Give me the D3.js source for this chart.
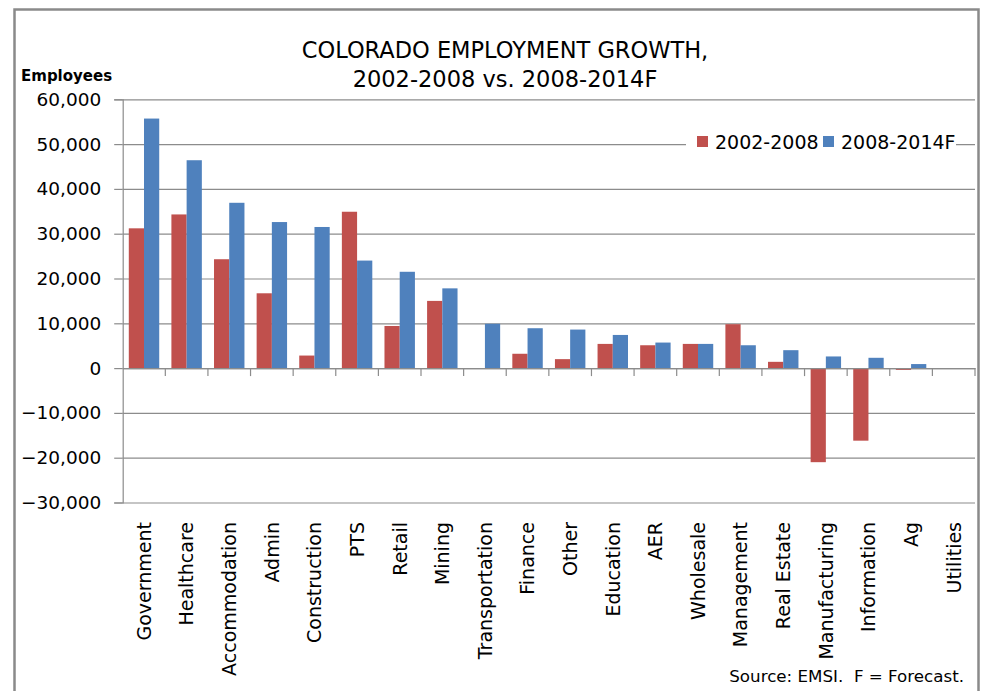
<!DOCTYPE html>
<html>
<head>
<meta charset="utf-8">
<script src="https://cdn.jsdelivr.net/npm/d3@7"></script>
<style>
  html, body { margin: 0; padding: 0; background: #fff; }
  svg { display: block; }
  text { font-family: "DejaVu Sans", sans-serif; fill: #000; }
</style>
</head>
<body>
<svg id="chart" width="987" height="691"></svg>
<script>
const categories = ["Government", "Healthcare", "Accommodation", "Admin", "Construction", "PTS", "Retail", "Mining", "Transportation", "Finance", "Other", "Education", "AER", "Wholesale", "Management", "Real Estate", "Manufacturing", "Information", "Ag", "Utilities"];
const seriesNames = ["2002-2008", "2008-2014F"];
const values2002_2008 = [31200, 34300, 24300, 16700, 2800, 34900, 9400, 15000, 0, 3200, 2000, 5400, 5100, 5400, 9800, 1400, -21000, -16200, -400, 0];
const values2008_2014F = [55700, 46400, 36900, 32600, 31500, 24000, 21500, 17800, 9900, 8900, 8600, 7400, 5700, 5400, 5100, 4000, 2600, 2300, 900, 0];
const yTicks = [-30000, -20000, -10000, 0, 10000, 20000, 30000, 40000, 50000, 60000];
const titleLines = ["COLORADO EMPLOYMENT GROWTH,", "2002-2008 vs. 2008-2014F"];
const colors = ["#C0504D", "#4F81BD"];

const svg = d3.select("#chart");
const plot = { left: 122.7, right: 975, top: 99.3, bottom: 502.5 };

// outer frame
svg.append("rect").attr("x", 14.5).attr("y", 9.5).attr("width", 964).attr("height", 700)
  .attr("fill", "#fff").attr("stroke", "#8a8a8a").attr("stroke-width", 2.5);

const x = d3.scaleBand().domain(categories).range([plot.left, plot.right]).paddingInner(0).paddingOuter(0);
const xs = d3.scaleBand().domain(seriesNames).range([0, x.bandwidth()]).paddingInner(0).paddingOuter(0.4);
const y = d3.scaleLinear().domain([-30000, 60000]).range([plot.bottom, plot.top]);

// gridlines
const grid = svg.append("g").attr("transform", `translate(${plot.left},0)`)
  .call(d3.axisLeft(y).tickValues(yTicks).tickSize(-(plot.right - plot.left)).tickFormat(""));
grid.select(".domain").remove();
grid.selectAll("line").attr("stroke", "#8c8c8c").attr("stroke-width", 1.2);

// y axis
const yAxis = svg.append("g").attr("transform", `translate(${plot.left},0)`)
  .call(d3.axisLeft(y).tickValues(yTicks).tickSize(8.5).tickPadding(13).tickFormat(d3.format(",")));
yAxis.select(".domain").attr("stroke", "#8c8c8c").attr("stroke-width", 1.2);
yAxis.selectAll("line").attr("stroke", "#8c8c8c").attr("stroke-width", 1.2);
yAxis.selectAll("text").style("font-family", "DejaVu Sans").style("font-size", "18.5px").attr("fill", "#000");

// bars
const data = categories.map((c, i) => ({ cat: c, vals: [values2002_2008[i], values2008_2014F[i]] }));
const groups = svg.append("g").selectAll("g").data(data).join("g")
  .attr("transform", d => `translate(${x(d.cat)},0)`);
groups.selectAll("rect").data(d => d.vals.map((v, k) => ({ v, k })))
  .join("rect")
  .attr("x", d => xs(seriesNames[d.k]))
  .attr("width", xs.bandwidth())
  .attr("y", d => y(Math.max(0, d.v)))
  .attr("height", d => Math.abs(y(d.v) - y(0)))
  .attr("fill", d => colors[d.k]);

// zero axis with category ticks
const xAxis = svg.append("g").attr("transform", `translate(0,${y(0)})`)
  .call(d3.axisBottom(x).tickSize(0).tickFormat(""));
xAxis.select(".domain").attr("stroke", "#8c8c8c").attr("stroke-width", 1.2);
xAxis.selectAll(".tick").remove();
const bounds = categories.map(c => x(c)).concat([plot.right]).slice(1);
xAxis.selectAll("line.cat").data(bounds).join("line").attr("class", "cat")
  .attr("x1", d => d).attr("x2", d => d).attr("y1", 0).attr("y2", 8)
  .attr("stroke", "#8c8c8c").attr("stroke-width", 1.2);

// category labels (rotated)
svg.append("g").selectAll("text").data(categories).join("text")
  .attr("transform", d => `translate(${x(d) + x.bandwidth() / 2},522) rotate(-90)`)
  .attr("text-anchor", "end").attr("dy", "0.36em")
  .style("font-size", "19px")
  .text(d => d);

// title
svg.append("g").selectAll("text").data(titleLines).join("text")
  .attr("x", 505).attr("y", (d, i) => 57.7 + i * 29)
  .attr("text-anchor", "middle").style("font-size", "22.5px")
  .text(d => d);

// y axis title
svg.append("text").attr("x", 21).attr("y", 80.5)
  .style("font-size", "15px").style("font-weight", "bold").text("Employees");

// legend
const legend = svg.append("g");
legend.append("rect").attr("x", 686).attr("y", 131).attr("width", 270).attr("height", 24).attr("fill", "#fff");
const legX = [697, 823];
seriesNames.forEach((s, i) => {
  legend.append("rect").attr("x", legX[i]).attr("y", 136).attr("width", 11).attr("height", 11).attr("fill", colors[i]);
  legend.append("text").attr("x", legX[i] + 18).attr("y", 148.5).style("font-size", "19px").text(s);
});

// source
svg.append("text").attr("x", 964).attr("y", 682).attr("text-anchor", "end")
  .style("font-size", "16.7px").style("white-space", "pre").text("Source: EMSI.  F = Forecast.");
</script>
</body>
</html>
